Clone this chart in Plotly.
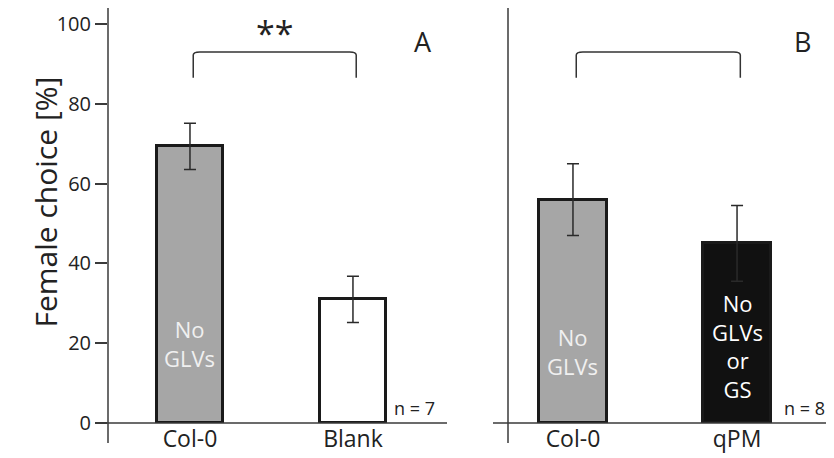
import plotly.graph_objects as go

# ---- data ----
cats_A = ["Col-0", "Blank"]
vals_A = [69.3, 31.0]
err_A = [5.8, 5.8]
labels_A = ["No<br>GLVs", ""]

cats_B = ["Col-0", "qPM"]
vals_B = [56.0, 45.0]
err_B = [9.0, 9.5]
labels_B = ["No<br>GLVs", "No<br>GLVs<br>or<br>GS"]

y_ticks = [0, 20, 40, 60, 80, 100]
n_A = "n = 7"
n_B = "n = 8"
sig_A = "**"

GRAY = "#a6a6a6"
DARK = "#222222"
AXC = "#3a3a3a"
FONT = "Open Sans"

fig = go.Figure()
fig.add_trace(go.Bar(
    x=cats_A, y=vals_A, width=0.41,
    marker=dict(color=[GRAY, "white"], line=dict(color="#1a1a1a", width=3)),
    error_y=dict(type="data", array=err_A, color="#2a2a2a", thickness=1.5, width=6),
    xaxis="x", yaxis="y", showlegend=False, hoverinfo="skip"))
fig.add_trace(go.Bar(
    x=cats_B, y=vals_B, width=0.41,
    marker=dict(color=[GRAY, "#111111"], line=dict(color="#1a1a1a", width=3)),
    error_y=dict(type="data", array=err_B, color="#2a2a2a", thickness=1.5, width=6),
    xaxis="x2", yaxis="y2", showlegend=False, hoverinfo="skip"))

# page has an 8px body margin; figure occupies page pixels 8..834 / 8..458
OFF = 8
W, H = 834 - OFF, 458 - OFF
ml, mr, mt, mb = 96 - OFF, 0, 0, H - (423 - OFF)
pw = W - ml - mr
ph = H - mt - mb


def px_x(p):
    return (p - OFF - ml) / pw


def px_y(p):
    return (H - mb - (p - OFF)) / ph


fig.update_layout(
    width=W, height=H,
    margin=dict(l=ml, r=mr, t=mt, b=mb),
    plot_bgcolor="white", paper_bgcolor="white",
    font=dict(family=FONT, color=DARK),
    bargap=0,
    xaxis=dict(domain=[px_x(108), px_x(447)], type="category", range=[-0.503, 1.577],
               showline=False, ticks="", showgrid=False, zeroline=False,
               tickfont=dict(size=23, color=DARK), anchor="y"),
    yaxis=dict(domain=[0, 1], range=[0, 104], tickvals=y_ticks, ticks="outside",
               ticklen=12, tickwidth=1.5, tickcolor=AXC, showgrid=False, zeroline=False,
               showline=False, tickfont=dict(size=20, color=DARK), anchor="x"),
    xaxis2=dict(domain=[px_x(508), 1.0], type="category", range=[-0.396, 1.591],
                showline=False, ticks="", showgrid=False, zeroline=False,
                tickfont=dict(size=23, color=DARK), anchor="y2"),
    yaxis2=dict(domain=[0, 1], matches="y", range=[0, 104], showticklabels=False, ticks="",
                showgrid=False, zeroline=False, showline=False, anchor="x2"),
)

shapes = []
# axis lines (crossing style)
for xp in (108, 508):
    shapes.append(dict(type="line", xref="paper", yref="paper", x0=px_x(xp), x1=px_x(xp),
                       y0=px_y(443), y1=1.0, line=dict(color=AXC, width=1.5)))
shapes.append(dict(type="line", xref="paper", yref="paper", x0=px_x(96), x1=px_x(447),
                   y0=0, y1=0, line=dict(color=AXC, width=1.5)))
shapes.append(dict(type="line", xref="paper", yref="paper", x0=px_x(493), x1=1.0,
                   y0=0, y1=0, line=dict(color=AXC, width=1.5)))
# brackets
for xr, yr in (("x", "y"), ("x2", "y2")):
    shapes.append(dict(type="path", xref=xr, yref=yr,
                       path="M 0.02,86.5 L 0.02,92.2 Q 0.02,93 0.06,93 L 0.98,93 Q 1.02,93 1.02,92.2 L 1.02,86.5",
                       line=dict(color="#333333", width=1.5)))
fig.update_layout(shapes=shapes)

ann = []
for c, t in zip(cats_A, labels_A):
    if t:
        ann.append(dict(x=c, y=20, xref="x", yref="y", text=t, showarrow=False,
                        font=dict(size=22, color="#f0f0f0")))
for c, t, yy, col in zip(cats_B, labels_B, [17.8, 19.4], ["#f0f0f0", "white"]):
    ann.append(dict(x=c, y=yy, xref="x2", yref="y2", text=t, showarrow=False,
                    font=dict(size=22, color=col)))
ann.append(dict(x=0.52, y=px_y(8), xref="x", yref="paper", yanchor="top", text=sig_A,
                showarrow=False, font=dict(size=34, color=DARK)))
ann.append(dict(x=1.43, y=95.5, xref="x", yref="y", text="A", showarrow=False,
                font=dict(size=27, color=DARK)))
ann.append(dict(x=1.40, y=95.5, xref="x2", yref="y2", text="B", showarrow=False,
                font=dict(size=27, color=DARK)))
ann.append(dict(x=1.38, y=3.8, xref="x", yref="y", text=n_A, showarrow=False,
                font=dict(size=18, color=DARK)))
ann.append(dict(x=1.41, y=3.8, xref="x2", yref="y2", text=n_B, showarrow=False,
                font=dict(size=18, color=DARK)))
ann.append(dict(x=px_x(22), y=px_y(202), xref="paper", yref="paper", text="Female choice [%]",
                textangle=-90, showarrow=False, font=dict(size=30, color=DARK)))
fig.update_layout(annotations=ann)

fig.write_html("out.html")
